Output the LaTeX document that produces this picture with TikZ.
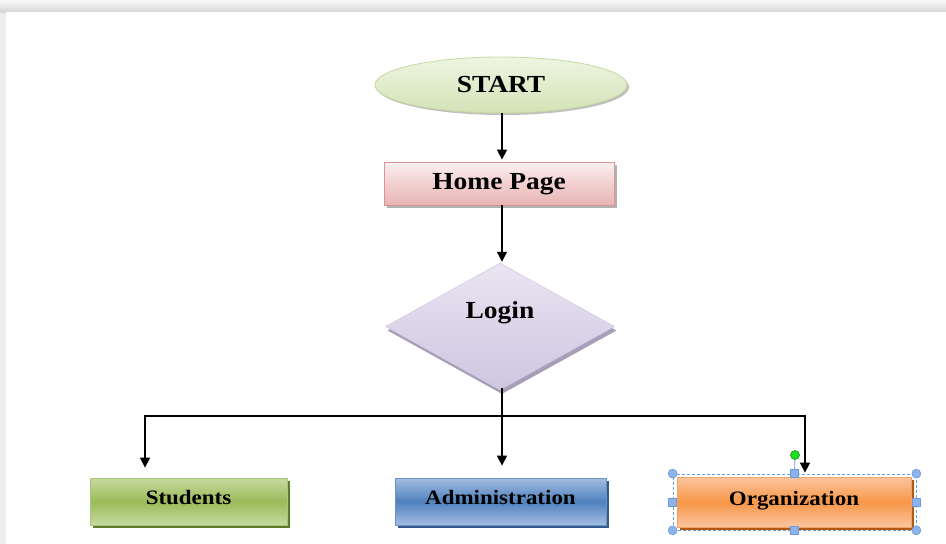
\documentclass[tikz,border=0pt]{standalone}
\usepackage{fontspec}
\setmainfont{Liberation Serif}
\newfontfamily\lblfont[FakeStretch=1.12]{Liberation Serif}
\usetikzlibrary{shapes.geometric,shadows,arrows.meta,calc}
\definecolor{bgg}{HTML}{EDEDED}
\definecolor{stTop}{HTML}{EEF5E2}
\definecolor{stBot}{HTML}{D3E3B6}
\definecolor{stDraw}{HTML}{C5D9A2}
\definecolor{hpTop}{HTML}{FBF0F0}
\definecolor{hpBot}{HTML}{E9B5B5}
\definecolor{hpDraw}{HTML}{D99494}
\definecolor{lgFill}{HTML}{DCD5E9}
\definecolor{lgTop}{HTML}{EAE5F2}
\definecolor{lgBot}{HTML}{CFC6E0}
\definecolor{lgShadow}{HTML}{A79EB9}
\definecolor{gnLight}{HTML}{C6DAA0}
\definecolor{gnMid}{HTML}{9BBB59}
\definecolor{gnDraw}{HTML}{A9C679}
\definecolor{gnShadow}{HTML}{5E7A2B}
\definecolor{blLight}{HTML}{A3BEE2}
\definecolor{blMid}{HTML}{4F81BD}
\definecolor{blDraw}{HTML}{6A93C8}
\definecolor{blShadow}{HTML}{34598A}
\definecolor{orLight}{HTML}{FBC5A0}
\definecolor{orMid}{HTML}{F79646}
\definecolor{orDraw}{HTML}{F2A466}
\definecolor{orShadow}{HTML}{B25A12}
\definecolor{selBlue}{HTML}{6E9BD8}
\definecolor{selFill}{HTML}{8DB3EA}
\definecolor{selGreen}{HTML}{1FE01F}
\tikzset{
  lbl/.style={font=\lblfont\bfseries\fontsize{24.5}{28}\selectfont, text=black},
  lblsmall/.style={font=\lblfont\bfseries\fontsize{20.5}{24}\selectfont, text=black},
  arr/.style={draw=black, line width=1.4pt, -{Triangle[length=10pt,width=10pt]}},
  btmbox/.style={rectangle, inner sep=0pt, lblsmall, line width=0.8pt, text height=15pt, text depth=9pt},
  handle/.style={circle, minimum size=9pt, inner sep=0pt, fill=selFill, draw=selBlue, line width=0.6pt},
  sqhandle/.style={rectangle, minimum size=8pt, inner sep=0pt, fill=selFill, draw=selBlue, line width=0.6pt},
}
\begin{document}
\begin{tikzpicture}[x=1pt,y=-1pt]
\useasboundingbox (0,0) rectangle (946,544);
% background
\fill[bgg] (0,0) rectangle (946,544);
\fill[top color=white!60!bgg, bottom color=bgg!90!black] (0,0) rectangle (946,12);
\fill[white] (6,12) rectangle (946,544);

% START
\node[ellipse, minimum width=252pt, minimum height=56pt, inner sep=0pt,
      top color=stTop, bottom color=stBot, draw=stDraw, line width=0.8pt,
      drop shadow={shadow xshift=2pt, shadow yshift=-2pt, fill=black!25, opacity=1},
      lbl] (start) at (501,85) {START};

% Home page
\node[rectangle, minimum width=230pt, minimum height=43pt, inner sep=0pt,
      top color=hpTop, bottom color=hpBot, middle color=hpBot!55!hpTop, draw=hpDraw, line width=0.8pt,
      drop shadow={shadow xshift=3pt, shadow yshift=-3pt, fill=black!30, opacity=1},
      lbl, text height=17pt, text depth=5pt] (home) at (499,183.5) {Home Page};

% Login diamond
\node[diamond, aspect=1.8, minimum width=229pt, minimum height=127pt, inner sep=0pt,
      top color=lgTop, bottom color=lgBot, middle color=lgFill, draw=lgBot, line width=0.5pt,
      drop shadow={shadow xshift=2pt, shadow yshift=-4pt, fill=lgShadow, opacity=1},
      lbl, text height=17pt, text depth=33pt] (login) at (500,326.5) {Login};

% Bottom boxes
\node[btmbox, minimum width=197pt, minimum height=47pt,
      top color=gnLight, bottom color=gnLight, middle color=gnMid, draw=gnDraw,
      drop shadow={shadow xshift=3pt, shadow yshift=-3pt, fill=gnShadow, opacity=1}]
      (stu) at (188.5,501.5) {Students};
\node[btmbox, minimum width=211pt, minimum height=47pt,
      top color=blLight, bottom color=blLight, middle color=blMid, draw=blDraw,
      drop shadow={shadow xshift=3pt, shadow yshift=-3pt, fill=blShadow, opacity=1}]
      (adm) at (500.5,501.5) {Administration};
\node[btmbox, minimum width=234pt, minimum height=50pt,
      top color=orLight, bottom color=orLight, middle color=orMid, draw=orDraw,
      drop shadow={shadow xshift=3pt, shadow yshift=-3pt, fill=orShadow, opacity=1}]
      (org) at (794,502) {Organization};

% Connectors
\draw[arr, shorten >=2pt] ([xshift=1pt]start.south) -- ([xshift=3pt]home.north);
\draw[arr, shorten >=1pt] ([xshift=3pt]home.south) -- ([xshift=2pt]login.north);
\coordinate (j) at (502,416);
\draw[arr, shorten >=12pt] ([xshift=2pt,yshift=2pt]login.south) -- ([xshift=1.5pt]adm.north);
\draw[arr, shorten >=10pt] (j) -| ([xshift=-43.5pt]stu.north);
\draw[arr, shorten >=4pt] (j) -| ([xshift=11pt]org.north);

% Selection handles around Organization
\node[draw=selBlue, line width=0.7pt, minimum width=243pt, minimum height=56pt, inner sep=0pt,
      dash pattern=on 3pt off 2pt] (sel) at (794.5,502) {};
\node[sqhandle] (hT) at (sel.north) {};
\node[sqhandle] (hB) at (sel.south) {};
\node[sqhandle] (hL) at (sel.west) {};
\node[sqhandle] (hR) at (sel.east) {};
\node[handle] (hNW) at (sel.north west) {};
\node[handle] (hNE) at (sel.north east) {};
\node[handle] (hSW) at (sel.south west) {};
\node[handle] (hSE) at (sel.south east) {};
\node[circle, minimum size=9pt, inner sep=0pt, fill=selGreen, draw=green!50!black, line width=0.5pt] (rot) at (795,455) {};
\draw[selBlue, line width=0.8pt] (rot) -- (hT);
\end{tikzpicture}
\end{document}
